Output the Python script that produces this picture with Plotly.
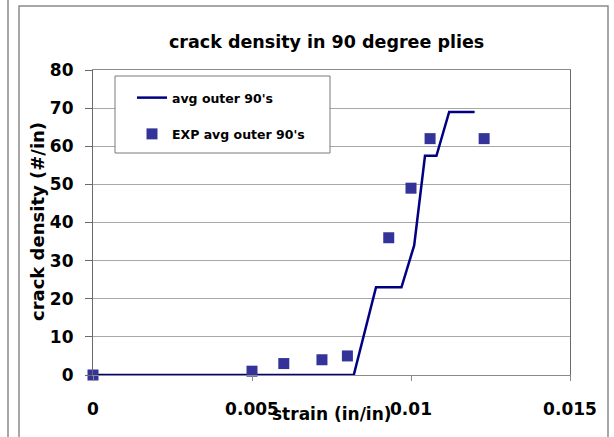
import plotly.graph_objects as go

# data
line_x = [0, 0.0082, 0.0089, 0.0097, 0.0101, 0.01044, 0.0108, 0.0112, 0.0120]
line_y = [0, 0, 23, 23, 34, 57.5, 57.5, 69, 69]
exp_x = [0, 0.005, 0.006, 0.0072, 0.008, 0.0093, 0.0100, 0.0106, 0.0123]
exp_y = [0, 1, 3, 4, 5, 36, 49, 62, 62]
x_ticks = [0, 0.005, 0.01, 0.015]
x_tick_text = ["0", "0.005", "0.01", "0.015"]
y_ticks = [0, 10, 20, 30, 40, 50, 60, 70, 80]

W, H = 614, 437
L, R, T, B = 93, 44, 70, 62
PW, PH = W - L - R, H - T - B

def px(x):
    return (x - L) / PW

def py(y):
    return (H - B - y) / PH

FONT = "DejaVu Sans, sans-serif"

fig = go.Figure()
fig.add_trace(go.Scatter(
    x=line_x, y=line_y, mode="lines", name="avg outer 90's",
    line=dict(color="#000080", width=2.5), cliponaxis=False,
    legendgroup="a",
))
fig.add_trace(go.Scatter(
    x=exp_x, y=exp_y, mode="markers", name="EXP avg outer 90's",
    marker=dict(symbol="square", size=11, color="#333399"), cliponaxis=False,
    legendgroup="b",
))

shapes = [
    # outer frame
    dict(type="rect", xref="paper", yref="paper", x0=px(19), x1=px(608), y0=py(446), y1=py(6),
         line=dict(color="#8a8a8a", width=1.5), layer="below"),
    dict(type="line", xref="paper", yref="paper", x0=px(8), x1=px(8), y0=py(446), y1=py(-5),
         line=dict(color="#8a8a8a", width=1.5)),
    # legend box
    dict(type="rect", xref="paper", yref="paper", x0=px(115), x1=px(330), y0=py(153), y1=py(76),
         line=dict(color="#7a7a7a", width=1), fillcolor="white", layer="above"),
]

annotations = [
    dict(text="crack density in 90 degree plies", xref="paper", yref="paper",
         x=px(326), y=py(42), showarrow=False,
         font=dict(size=17.5, color="black", family=FONT, weight="bold"),
         xanchor="center", yanchor="middle"),
    dict(text="strain (in/in)", xref="paper", yref="paper",
         x=px(332), y=py(414), showarrow=False,
         font=dict(size=17, color="black", family=FONT, weight="bold"),
         xanchor="center", yanchor="middle"),
    dict(text="crack density (#/in)", xref="paper", yref="paper",
         x=px(37), y=py(222), showarrow=False, textangle=-90,
         font=dict(size=18, color="black", family=FONT, weight="bold"),
         xanchor="center", yanchor="middle"),
]

fig.update_layout(
    width=W, height=H,
    margin=dict(l=L, r=R, t=T, b=B, pad=0),
    paper_bgcolor="white", plot_bgcolor="white",
    font=dict(family=FONT, color="black"),
    showlegend=True,
    legend=dict(
        x=px(132), y=py(83), xanchor="left", yanchor="top",
        bgcolor="rgba(0,0,0,0)", borderwidth=0,
        font=dict(size=12.5, color="black", family=FONT, weight="bold"),
        traceorder="grouped", tracegroupgap=17,
    ),
    shapes=shapes,
    annotations=annotations,
    xaxis=dict(
        range=[0, 0.015], tickvals=x_ticks, ticktext=x_tick_text,
        showgrid=False, zeroline=False,
        showline=True, linecolor="#8a8a8a", linewidth=1.2, mirror=True,
        ticks="outside", ticklen=5, tickcolor="#8a8a8a", tickwidth=1.2,
        tickfont=dict(size=17, color="black", family=FONT, weight="bold"),
        ticklabelstandoff=13,
    ),
    yaxis=dict(
        range=[0, 80], tickvals=y_ticks,
        showgrid=True, gridcolor="#a8a8a8", gridwidth=1.2, zeroline=False,
        showline=True, linecolor="#6a6a6a", linewidth=1.2, mirror=True,
        ticks="outside", ticklen=7, tickcolor="#6a6a6a", tickwidth=1.2,
        tickfont=dict(size=17, color="black", family=FONT, weight="bold"),
        ticklabelstandoff=8,
    ),
)

fig.write_html(
    "out.html",
    config={"displayModeBar": False},
    post_script="document.body.style.margin='0';document.body.style.overflow='hidden';",
)
